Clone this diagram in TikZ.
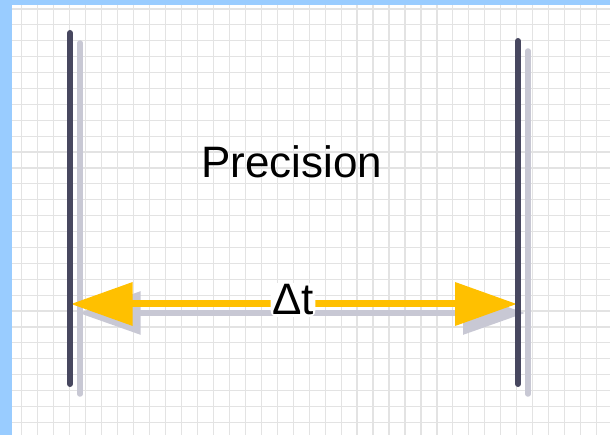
\documentclass[tikz,border=0pt]{standalone}
\usepackage{fontspec}
\setmainfont{Liberation Sans}
\usetikzlibrary{arrows.meta}
\definecolor{frameblue}{HTML}{99CCFF}
\definecolor{gridgray}{HTML}{E3E3E3}
\definecolor{barcol}{HTML}{47475F}
\definecolor{shadowcol}{HTML}{C8C8D4}
\definecolor{arrowcol}{HTML}{FFC000}
\tikzset{
  gridline/.style={draw=gridgray, line width=1.2pt},
  bar/.style={draw=barcol, line width=6pt, line cap=round},
  barshadow/.style={draw=shadowcol, line width=5.5pt, line cap=round},
  timearrow/.style={draw=arrowcol, line width=7pt, {Triangle[length=62pt,width=42pt,fill=arrowcol]}-{Triangle[length=62pt,width=42pt,fill=arrowcol]}},
  arrowshadow/.style={draw=shadowcol, line width=6pt, {Triangle[length=62pt,width=42pt,fill=shadowcol]}-{Triangle[length=62pt,width=42pt,fill=shadowcol]}},
  biglabel/.style={font=\fontsize{44}{50}\selectfont, text=black},
}
\begin{document}
\begin{tikzpicture}[x=1pt,y=-1pt]
\useasboundingbox (0,0) rectangle (610,435);
\fill[frameblue] (0,0) rectangle (610,435);
\fill[white] (12,5) rectangle (610,435);
% grid
\foreach \i in {0,...,36} \draw[gridline] ({21.7+15.97*\i},5) -- ++(0,430);
\foreach \j in {0,...,26} \draw[gridline] (12,{9+15.9*\j}) -- (610,{9+15.9*\j});
% coordinates
\coordinate (lt) at (70,33);
\coordinate (lb) at (70,384);
\coordinate (rt) at (518,41);
\coordinate (rb) at (518,384);
\coordinate (la) at (70.7,304);
\coordinate (ra) at (517,304);
% shadows
\draw[barshadow] ([shift={(10,10)}]lt) -- ([shift={(10,10)}]lb);
\draw[barshadow] ([shift={(10,10)}]rt) -- ([shift={(10,10)}]rb);
\draw[arrowshadow] ([shift={(8,9)}]la) -- ([shift={(8,9)}]ra);
% arrow
\draw[timearrow] (la) -- (ra);
% bars
\draw[bar] (lt) -- (lb);
\draw[bar] (rt) -- (rb);
% labels
\node[biglabel, anchor=base, fill=white, inner sep=1.5pt, rounded corners=6pt] (dt) at (293,315) {Δt};
\node[biglabel, anchor=base] (prec) at (291.5,178) {Precision};
\end{tikzpicture}
\end{document}
